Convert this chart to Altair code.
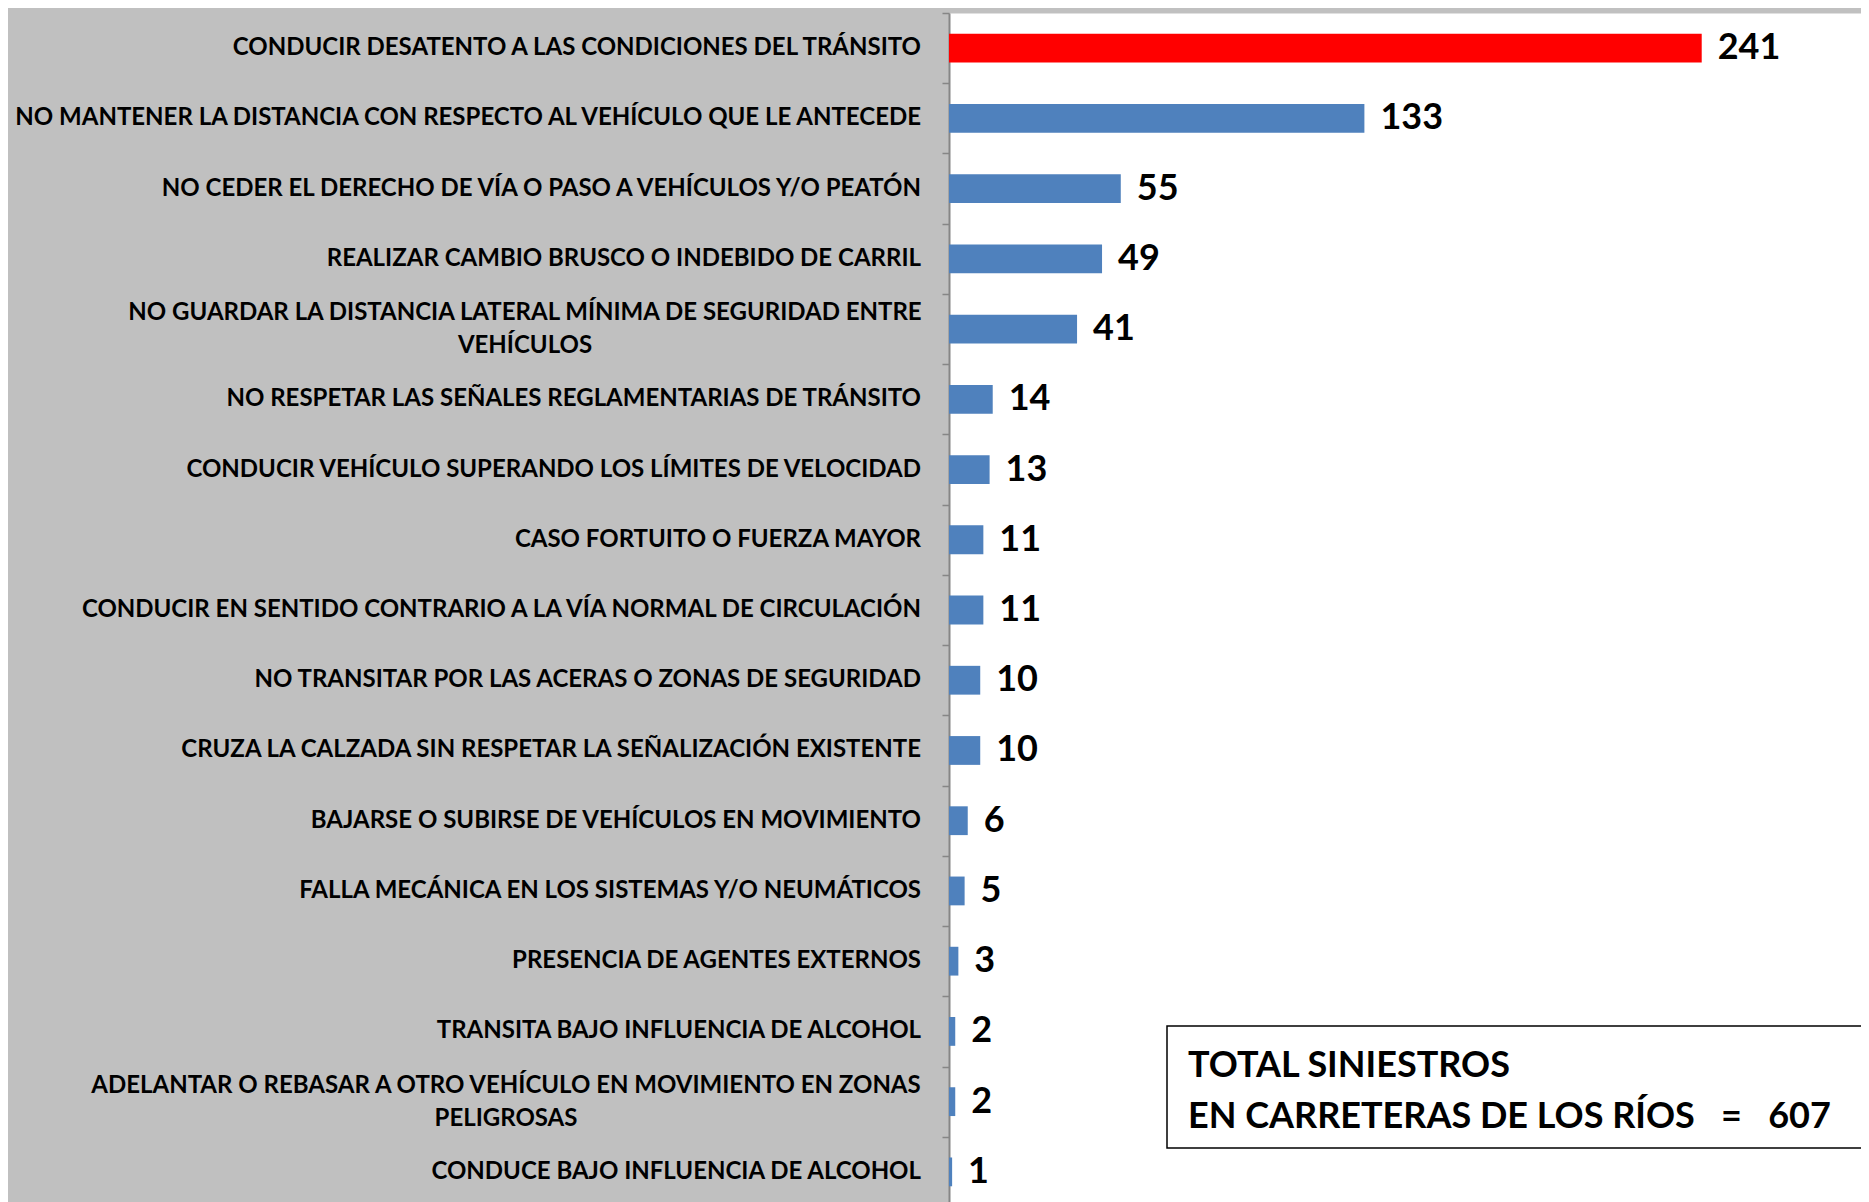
import altair as alt
import pandas as pd

causas = [
    "CONDUCIR DESATENTO A LAS CONDICIONES DEL TRÁNSITO",
    "NO MANTENER LA DISTANCIA CON RESPECTO AL VEHÍCULO QUE LE ANTECEDE",
    "NO CEDER EL DERECHO DE VÍA O PASO A VEHÍCULOS Y/O PEATÓN",
    "REALIZAR CAMBIO BRUSCO O INDEBIDO DE CARRIL",
    "NO GUARDAR LA DISTANCIA LATERAL MÍNIMA DE SEGURIDAD ENTRE\nVEHÍCULOS",
    "NO RESPETAR LAS SEÑALES REGLAMENTARIAS DE TRÁNSITO",
    "CONDUCIR VEHÍCULO SUPERANDO LOS LÍMITES DE VELOCIDAD",
    "CASO FORTUITO O FUERZA MAYOR",
    "CONDUCIR EN SENTIDO CONTRARIO A LA VÍA NORMAL DE CIRCULACIÓN",
    "NO TRANSITAR POR LAS ACERAS O ZONAS DE SEGURIDAD",
    "CRUZA LA CALZADA SIN RESPETAR LA SEÑALIZACIÓN EXISTENTE",
    "BAJARSE O SUBIRSE DE VEHÍCULOS EN MOVIMIENTO",
    "FALLA MECÁNICA EN LOS SISTEMAS Y/O NEUMÁTICOS",
    "PRESENCIA DE AGENTES EXTERNOS",
    "TRANSITA BAJO INFLUENCIA DE ALCOHOL",
    "ADELANTAR O REBASAR A OTRO VEHÍCULO EN MOVIMIENTO EN ZONAS\nPELIGROSAS",
    "CONDUCE BAJO INFLUENCIA DE ALCOHOL",
]
valores = [241, 133, 55, 49, 41, 14, 13, 11, 11, 10, 10, 6, 5, 3, 2, 2, 1]
total_lineas = ["TOTAL SINIESTROS", "EN CARRETERAS DE LOS RÍOS \u00a0\u00a0=\u00a0\u00a0 607"]

df = pd.DataFrame({"causa": causas, "valor": valores})
anot = pd.DataFrame({"k": [0]})

FONT = "Lato"
W, H = 912, 1194

y_axis = alt.Axis(
    title=None,
    labels=False,
    domainColor="#868686",
    domainWidth=2,
    tickColor="#868686",
    tickWidth=1.5,
    tickSize=7,
    tickBand="extent",
)

y_enc = alt.Y("causa:N", sort=None, scale=alt.Scale(paddingInner=0, paddingOuter=0), axis=y_axis)
x_enc = alt.X("valor:Q", scale=alt.Scale(domain=[0, 292], nice=False, zero=True), axis=None)

bars = alt.Chart(df).mark_bar(height={"band": 0.41}).encode(
    x=x_enc,
    y=y_enc,
    color=alt.condition(
        f"datum.valor == {max(valores)}", alt.value("#FF0000"), alt.value("#4F81BD")
    ),
)

etiquetas = alt.Chart(df).mark_text(
    align="left", baseline="middle", dx=16, font=FONT, fontSize=36,
    fontWeight="bold", color="black",
).encode(x=x_enc, y=y_enc, text="valor:Q")

# category labels (left side)
lbl_style = dict(baseline="middle", font=FONT, fontSize=24, fontWeight="bold",
                 color="black", lineBreak="\n", lineHeight=33)

simples = alt.Chart(df).transform_filter(
    "indexof(datum.causa, '\\n') < 0"
).mark_text(align="right", **lbl_style).encode(
    x=alt.value(-28), y=y_enc, text="causa:N"
)

doble1 = alt.Chart(df).transform_filter(
    "indexof(datum.causa, 'NO GUARDAR') == 0"
).mark_text(align="center", dy=-16, **lbl_style).encode(
    x=alt.value(-424), y=y_enc, text="causa:N"
)

doble2 = alt.Chart(df).transform_filter(
    "indexof(datum.causa, 'ADELANTAR') == 0"
).mark_text(align="center", dy=-16, **lbl_style).encode(
    x=alt.value(-443), y=y_enc, text="causa:N"
)

caja = alt.Chart(anot).mark_rect(fill="white", stroke="black", strokeWidth=1.5).encode(
    x=alt.value(218), x2=alt.value(930), y=alt.value(1013), y2=alt.value(1135)
)
caja_texto = alt.Chart(anot).mark_text(
    align="left", baseline="middle", font=FONT, fontSize=36, fontWeight="bold",
    color="black", lineHeight=51,
).encode(x=alt.value(239), y=alt.value(1053), text=alt.value(total_lineas))

chart = (
    alt.layer(bars, etiquetas, simples, doble1, doble2, caja, caja_texto)
    .properties(
        width=W,
        height=H,
        background="#C0C0C0",
        autosize=alt.AutoSizeParams(type="none"),
        padding={"left": 941, "top": 5, "right": 0, "bottom": 0},
    )
    .configure_view(fill="white", strokeOpacity=0)
)

chart.save("out.html", embed_options={"renderer": "svg", "actions": False})
